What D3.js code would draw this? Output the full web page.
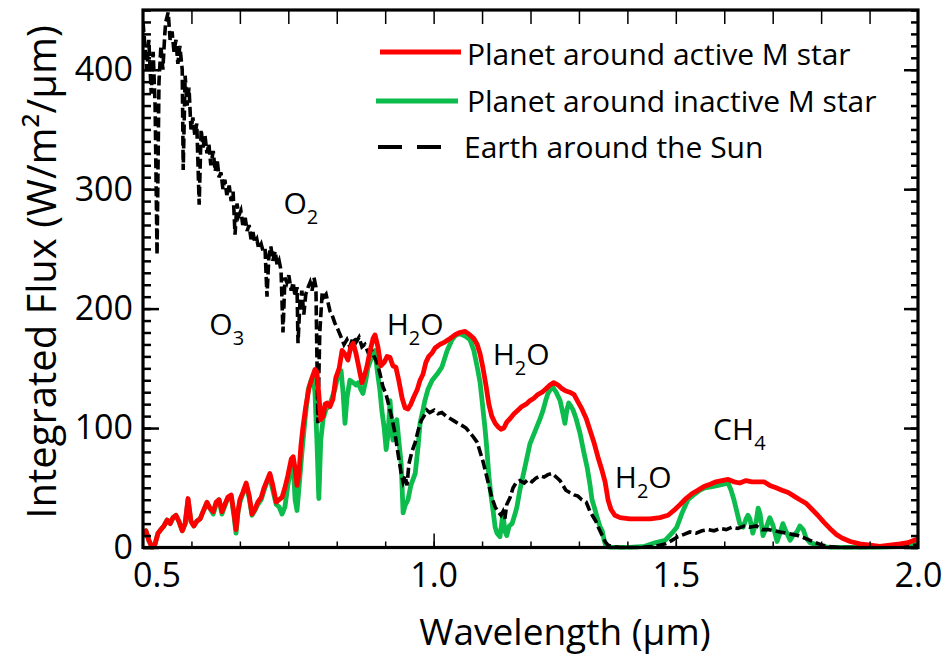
<!DOCTYPE html>
<html><head><meta charset="utf-8">
<script src="https://cdn.jsdelivr.net/npm/d3@7"></script>
<style>body{margin:0;background:#fff} svg text{font-family:'Open Sans',sans-serif;fill:#000}</style>
</head><body><svg id="c" width="945" height="656"></svg>
<script>
// ---------- data ----------
const xDomain = [0.4, 2.0];
const yDomain = [0, 450];
const xTickLabels = [0.5, 1.0, 1.5, 2.0];
const xMinorTicks = [0.5,0.6,0.7,0.8,0.9,1.0,1.1,1.2,1.3,1.4,1.5,1.6,1.7,1.8,1.9];
const xMajorTicks = [1.0, 1.5];
const yTickLabels = [0, 100, 200, 300, 400];
const seriesNames = ["Planet around active M star", "Planet around inactive M star", "Earth around the Sun"];
const annotations = [
  {base:"O", sub:"2", tail:"", wl:0.690, v:279},
  {base:"O", sub:"3", tail:"", wl:0.537, v:178},
  {base:"H", sub:"2", tail:"O", wl:0.903, v:178},
  {base:"H", sub:"2", tail:"O", wl:1.122, v:153},
  {base:"H", sub:"2", tail:"O", wl:1.374, v:50},
  {base:"CH", sub:"4", tail:"", wl:1.577, v:90}
];

// Earth around the Sun [wavelength µm, flux]
const earth = [[.400,440],[.404,420],[.408,400],[.412,425],[.417,380],[.421,415],[.425,370],[.429,245],[.433,390],[.437,420],[.441,400],[.445,430],[.447,440],[.452,448],[.456,425],[.460,432],[.464,415],[.468,425],[.472,405],[.476,420],[.481,400],[.483,316],[.487,395],[.491,370],[.495,385],[.499,350],[.503,360],[.507,345],[.511,355],[.516,287],[.520,350],[.524,335],[.528,345],[.532,330],[.536,338],[.540,320],[.545,332],[.549,315],[.553,325],[.557,310],[.561,314],[.565,300],[.569,308],[.573,295],[.578,303],[.582,290],[.586,298],[.590,262],[.594,288],[.598,278],[.602,282],[.606,270],[.611,276],[.615,265],[.619,270],[.623,258],[.627,264],[.631,255],[.635,258],[.639,250],[.644,254],[.648,248],[.652,250],[.656,210],[.660,245],[.664,252],[.668,240],[.673,248],[.677,236],[.681,240],[.685,232],[.689,180],[.693,226],[.697,222],[.701,228],[.706,215],[.710,222],[.714,210],[.718,218],[.720,171],[.724,205],[.728,215],[.732,195],[.736,212],[.741,218],[.745,222],[.749,215],[.753,226],[.757,218],[.761,104],[.765,180],[.770,214],[.774,210],[.778,212],[.782,205],[.786,198],[.790,195],[.796,188],[.803,182],[.809,176],[.815,170],[.821,174],[.827,168],[.834,176],[.840,172],[.846,176],[.852,168],[.858,170],[.864,164],[.871,166],[.877,160],[.883,155],[.889,146],[.895,135],[.902,128],[.908,118],[.914,108],[.920,96],[.926,80],[.933,62],[.937,55],[.941,60],[.945,52],[.949,70],[.955,80],[.962,88],[.968,98],[.974,106],[.980,110],[.986,115],[.992,113],[1.001,115],[1.009,112],[1.017,113],[1.026,110],[1.034,108],[1.042,106],[1.050,104],[1.059,102],[1.067,100],[1.075,96],[1.083,92],[1.090,88],[1.096,80],[1.102,72],[1.108,62],[1.114,52],[1.120,42],[1.127,34],[1.133,30],[1.139,27],[1.143,30],[1.147,24],[1.151,36],[1.158,42],[1.164,50],[1.170,54],[1.178,56],[1.187,54],[1.195,57],[1.203,55],[1.211,58],[1.220,60],[1.228,59],[1.236,61],[1.244,62],[1.253,59],[1.261,56],[1.267,52],[1.273,48],[1.281,46],[1.290,44],[1.298,43],[1.306,40],[1.315,38],[1.323,30],[1.329,26],[1.335,22],[1.341,16],[1.348,10],[1.354,5],[1.360,2],[1.368,1],[1.385,0],[1.426,0],[1.457,1],[1.478,3],[1.492,6],[1.504,9],[1.517,11],[1.529,13],[1.542,12],[1.554,14],[1.566,15],[1.579,14],[1.591,16],[1.604,15],[1.616,17],[1.628,16],[1.641,18],[1.653,17],[1.666,18],[1.678,15],[1.690,15],[1.703,14],[1.715,13],[1.727,12],[1.740,11],[1.752,10],[1.765,8],[1.777,6],[1.789,4],[1.802,2],[1.814,1],[1.839,0],[1.901,0],[1.963,1],[2.000,2]];

// Planet around active M star
const active = [[.400,12],[.406,14],[.412,6],[.419,0],[.425,3],[.431,12],[.437,15],[.443,18],[.450,23],[.456,20],[.462,25],[.468,27],[.474,22],[.481,14],[.487,20],[.493,41],[.499,22],[.505,18],[.511,22],[.518,24],[.524,30],[.532,38],[.538,33],[.545,30],[.551,38],[.557,40],[.563,30],[.569,36],[.575,42],[.582,44],[.588,28],[.592,15],[.596,30],[.600,40],[.606,46],[.613,54],[.619,44],[.625,28],[.631,32],[.637,38],[.644,42],[.650,50],[.656,56],[.662,62],[.668,52],[.675,38],[.681,40],[.687,42],[.693,50],[.699,60],[.706,74],[.710,76],[.714,66],[.718,52],[.722,62],[.726,85],[.730,100],[.736,118],[.743,134],[.749,142],[.755,149],[.759,147],[.763,128],[.767,107],[.772,110],[.776,120],[.780,121],[.786,118],[.792,124],[.798,142],[.805,150],[.811,165],[.817,162],[.823,157],[.829,168],[.834,171],[.840,162],[.846,150],[.852,138],[.858,145],[.862,151],[.869,165],[.875,175],[.879,178],[.885,168],[.891,152],[.898,155],[.904,160],[.910,159],[.916,152],[.922,151],[.928,140],[.935,125],[.941,117],[.947,116],[.953,120],[.959,126],[.966,132],[.972,140],[.978,145],[.984,155],[.990,160],[.997,163],[1.003,167],[1.013,170],[1.023,172],[1.034,175],[1.044,178],[1.054,180],[1.065,181],[1.075,178],[1.083,175],[1.090,170],[1.096,162],[1.102,150],[1.108,136],[1.114,120],[1.120,110],[1.127,104],[1.133,101],[1.139,99],[1.145,100],[1.151,105],[1.158,108],[1.166,112],[1.174,115],[1.182,118],[1.191,120],[1.199,123],[1.207,125],[1.215,128],[1.224,130],[1.232,133],[1.240,136],[1.248,138],[1.257,136],[1.265,133],[1.273,131],[1.281,130],[1.290,128],[1.298,122],[1.306,116],[1.315,108],[1.323,98],[1.331,88],[1.339,76],[1.348,64],[1.354,55],[1.360,40],[1.366,32],[1.374,27],[1.385,25],[1.405,24],[1.426,24],[1.447,24],[1.467,25],[1.484,27],[1.496,31],[1.509,36],[1.521,41],[1.533,45],[1.546,48],[1.558,51],[1.571,53],[1.583,55],[1.595,56],[1.608,57],[1.620,55],[1.632,54],[1.645,56],[1.657,55],[1.670,55],[1.682,55],[1.694,52],[1.707,50],[1.719,48],[1.732,46],[1.744,43],[1.756,40],[1.769,37],[1.781,32],[1.793,27],[1.806,21],[1.818,16],[1.831,11],[1.843,8],[1.860,5],[1.880,3],[1.901,2],[1.921,1],[1.942,2],[1.963,3],[1.979,4],[1.992,6],[2.000,7]];

// Planet around inactive M star
const inactive = [[.400,12],[.406,14],[.412,6],[.419,0],[.425,3],[.431,12],[.437,15],[.443,18],[.450,23],[.456,20],[.462,25],[.468,27],[.474,22],[.481,14],[.487,20],[.493,40],[.499,22],[.505,18],[.511,22],[.518,24],[.524,30],[.532,37],[.538,33],[.545,28],[.551,36],[.557,40],[.563,28],[.569,35],[.575,41],[.582,43],[.588,26],[.592,12],[.596,29],[.600,38],[.606,45],[.613,52],[.619,42],[.625,27],[.631,31],[.637,36],[.644,40],[.650,48],[.656,55],[.662,58],[.668,48],[.675,36],[.681,34],[.687,28],[.693,34],[.699,52],[.706,68],[.710,70],[.714,40],[.718,31],[.722,50],[.728,79],[.734,105],[.741,132],[.747,140],[.751,143],[.755,130],[.759,90],[.763,41],[.767,90],[.772,108],[.778,116],[.784,118],[.790,125],[.796,132],[.803,145],[.809,148],[.813,130],[.817,104],[.821,125],[.827,140],[.834,138],[.840,136],[.844,138],[.850,132],[.854,129],[.860,140],[.864,150],[.871,158],[.875,163],[.879,165],[.883,150],[.889,132],[.893,115],[.898,100],[.902,82],[.906,95],[.910,123],[.914,100],[.916,90],[.920,104],[.924,107],[.928,90],[.933,70],[.937,29],[.941,35],[.947,40],[.953,52],[.962,62],[.968,85],[.972,104],[.978,115],[.982,123],[.988,132],[.997,140],[1.007,145],[1.017,151],[1.028,165],[1.038,174],[1.046,178],[1.054,179],[1.065,177],[1.075,174],[1.083,165],[1.090,151],[1.096,138],[1.100,123],[1.106,100],[1.110,82],[1.114,60],[1.118,45],[1.123,30],[1.127,17],[1.131,12],[1.137,9],[1.141,22],[1.143,29],[1.147,14],[1.151,10],[1.156,18],[1.162,20],[1.168,28],[1.172,34],[1.178,48],[1.184,59],[1.191,72],[1.199,87],[1.207,95],[1.213,101],[1.220,108],[1.226,115],[1.232,124],[1.236,129],[1.242,133],[1.246,134],[1.253,130],[1.261,123],[1.267,112],[1.271,104],[1.275,115],[1.279,121],[1.284,118],[1.288,115],[1.294,108],[1.302,96],[1.310,80],[1.317,67],[1.323,52],[1.327,40],[1.333,32],[1.337,26],[1.343,18],[1.348,14],[1.352,6],[1.356,1],[1.364,0],[1.405,0],[1.436,1],[1.457,4],[1.478,6],[1.492,12],[1.502,17],[1.513,29],[1.525,40],[1.540,45],[1.550,48],[1.560,50],[1.575,51],[1.587,52],[1.599,53],[1.608,54],[1.614,48],[1.620,40],[1.626,30],[1.632,20],[1.639,17],[1.645,24],[1.649,27],[1.653,24],[1.659,12],[1.666,22],[1.670,33],[1.674,28],[1.680,10],[1.686,16],[1.694,25],[1.701,18],[1.709,5],[1.715,12],[1.721,20],[1.727,14],[1.736,6],[1.742,10],[1.750,13],[1.756,18],[1.763,15],[1.769,8],[1.777,4],[1.785,3],[1.793,2],[1.804,1],[1.818,0],[1.921,0],[1.963,1],[1.983,2],[2.000,3]];

// ---------- drawing ----------
const RED = "#ff0000", GREEN = "#0cbc4c", BLACK = "#000";
const L = 143, R = 918, T = 10, B = 547.5;
const svg = d3.select("#c");
const x = d3.scaleLinear().domain(xDomain).range([L, R]);
const y = d3.scaleLinear().domain(yDomain).range([B, T]);
const line = d3.line().x(d => x(d[0])).y(d => y(d[1]));

svg.append("defs").append("clipPath").attr("id","clip")
  .append("rect").attr("x",L).attr("y",T).attr("width",R-L).attr("height",B-T+2);
const plot = svg.append("g").attr("clip-path","url(#clip)");

plot.append("path").datum(inactive).attr("d", line)
  .attr("fill","none").attr("stroke",GREEN).attr("stroke-width",4.8).attr("stroke-linejoin","round");
plot.append("path").datum(earth).attr("d", line)
  .attr("fill","none").attr("stroke",BLACK).attr("stroke-width",3.6).attr("stroke-dasharray","10,4");
plot.append("path").datum(active).attr("d", line)
  .attr("fill","none").attr("stroke",RED).attr("stroke-width",4.8).attr("stroke-linejoin","round");

// ticks
function ticks(gen, tx, ty, vals, size, sw) {
  const g = svg.append("g").attr("transform", `translate(${tx},${ty})`)
    .call(gen.tickValues(vals).tickSize(size).tickFormat(""));
  g.select(".domain").remove();
  g.selectAll("line").attr("stroke", "#000").attr("stroke-width", sw);
}
const yMinor = y.ticks(45);
ticks(d3.axisBottom(x), 0, B, xMinorTicks, -6, 1.5);
ticks(d3.axisBottom(x), 0, B, xMajorTicks, -14, 1.5);
ticks(d3.axisTop(x), 0, T, xMinorTicks, -14, 1.5);
ticks(d3.axisLeft(y), L, 0, yMinor, -8, 2.5);
ticks(d3.axisLeft(y), L, 0, yTickLabels, -16, 2.5);
ticks(d3.axisRight(y), R, 0, yMinor, -7, 2.5);
ticks(d3.axisRight(y), R, 0, yTickLabels, -14, 2.5);

// frame
svg.append("rect").attr("x",L).attr("y",T).attr("width",R-L).attr("height",B-T)
  .attr("fill","none").attr("stroke","#000").attr("stroke-width",3.2);

// tick labels
const gx = svg.append("g").attr("transform",`translate(0,${B})`)
  .call(d3.axisBottom(x).tickValues(xTickLabels).tickSize(0).tickPadding(15).tickFormat(d3.format(".1f")));
gx.select(".domain").remove();
gx.selectAll("text").attr("font-size",34).attr("font-family","'Open Sans',sans-serif").attr("fill","#000");
gx.selectAll(".tick").filter(d => d === 0.5).select("text").attr("dx", -35);

const gy = svg.append("g").attr("transform",`translate(${L},0)`)
  .call(d3.axisLeft(y).tickValues(yTickLabels).tickSize(0).tickPadding(10).tickFormat(d3.format("d")));
gy.select(".domain").remove();
gy.selectAll("text").attr("font-size",34).attr("font-family","'Open Sans',sans-serif").attr("fill","#000");

// axis titles
svg.append("text").attr("x",565).attr("y",645).attr("text-anchor","middle")
  .attr("font-size",37).text("Wavelength (µm)");
svg.append("text").attr("transform","translate(56,272) rotate(-90)").attr("text-anchor","middle")
  .attr("font-size",40).text("Integrated Flux (W/m²/µm)");

// annotations (molecule labels)
const ann = svg.selectAll("text.ann").data(annotations).enter().append("text")
  .attr("class","ann").attr("x", d => x(d.wl)).attr("y", d => y(d.v)).attr("font-size",30);
ann.append("tspan").text(d => d.base);
ann.append("tspan").attr("font-size",20).attr("dy",10).text(d => d.sub);
ann.filter(d => d.tail).append("tspan").attr("dy",-10).text(d => d.tail);

// legend
const legend = [
  {name: seriesNames[0], color: RED, dash: null, x1: 380, x2: 461, ly: 52, tx: 467, ty: 65, w: 5},
  {name: seriesNames[1], color: GREEN, dash: null, x1: 376, x2: 458, ly: 101, tx: 467, ty: 112, w: 5},
  {name: seriesNames[2], color: BLACK, dash: "24,15", x1: 378, x2: 443, ly: 147, tx: 464, ty: 158, w: 4}
];
const lg = svg.selectAll("g.lg").data(legend).enter().append("g").attr("class","lg");
lg.append("line").attr("x1",d=>d.x1).attr("x2",d=>d.x2).attr("y1",d=>d.ly).attr("y2",d=>d.ly)
  .attr("stroke",d=>d.color).attr("stroke-width",d=>d.w).attr("stroke-dasharray",d=>d.dash);
lg.append("text").attr("x",d=>d.tx).attr("y",d=>d.ty).attr("font-size",30).text(d=>d.name);
</script></body></html>
